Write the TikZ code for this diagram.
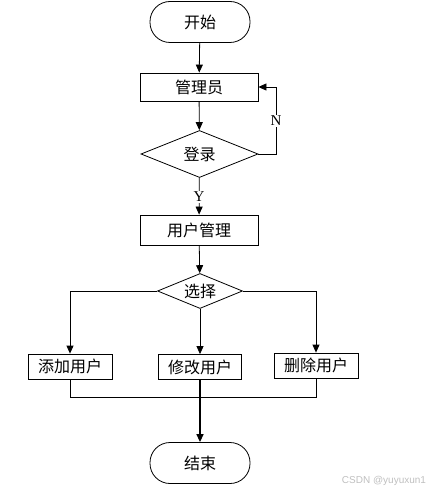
\documentclass[tikz,border=0pt]{standalone}
\usepackage{fontspec}
\setmainfont{Liberation Serif}
\newfontfamily\cjk{Noto Sans CJK SC}
\newfontfamily\wmfont{Liberation Sans}
\usetikzlibrary{arrows.meta,shapes.geometric}
\begin{document}
\begin{tikzpicture}[x=1pt,y=-1pt,
  every node/.style={inner sep=0pt},
  base/.style={draw, line width=0.8pt, font=\cjk\fontsize{16}{16}\selectfont},
  box/.style={base, rectangle, minimum width=118pt, minimum height=28pt},
  sbox/.style={base, rectangle, minimum width=84pt, minimum height=25pt},
  term/.style={base, rectangle, rounded corners=20pt, minimum width=100pt, minimum height=41pt},
  dia/.style={base, diamond},
  lbl/.style={fill=white, inner sep=1pt, font=\fontsize{15}{15}\selectfont},
  conn/.style={line width=0.8pt},
  arr/.style={conn, -{Triangle[length=8pt,width=7pt]}}
]
\useasboundingbox (0,0) rectangle (429,492);

\node[term] (start) at (200,22) {开始};
\node[box] (admin) at (199,87) {管理员};
\node[dia, aspect=2.5, minimum width=117pt, minimum height=47pt] (login) at (199.5,154) {登录};
\node[box, minimum height=30pt] (umgmt) at (199,230) {用户管理};
\node[dia, aspect=2.43, minimum width=85pt, minimum height=35pt] (choose) at (200,291) {选择};
\node[sbox] (add) at (70,366.5) {添加用户};
\node[sbox, minimum width=83pt] (mod) at (200,367) {修改用户};
\node[sbox] (del) at (316,365.5) {删除用户};
\node[term] (end) at (200,463) {结束};

\coordinate (nc) at (276,154);
\coordinate (jl) at (70,397);
\coordinate (jr) at (316,397);

\draw[arr] (start) -- (admin);
\draw[arr] (admin) -- (login);
\draw[arr] (login.east) -- (nc) |- (admin.east);
\draw[arr] (login) -- (umgmt);
\draw[arr] (umgmt) -- (choose);
\draw[arr] (choose.west) -| (add.north);
\draw[arr] (choose) -- (mod);
\draw[arr] (choose.east) -| (del.north);
\draw[conn] (add.south) -- (jl) -- (jr) -- (del.south);
\draw[arr, line width=1.3pt] (mod) -- (end);

\node[lbl] (n) at (276,121) {N};
\node[lbl] (y) at (199,197) {Y};

\node[font=\wmfont\fontsize{10}{10}\selectfont, text=gray!50] (wm) at (384,481) {CSDN @yuyuxun1};
\end{tikzpicture}
\end{document}
